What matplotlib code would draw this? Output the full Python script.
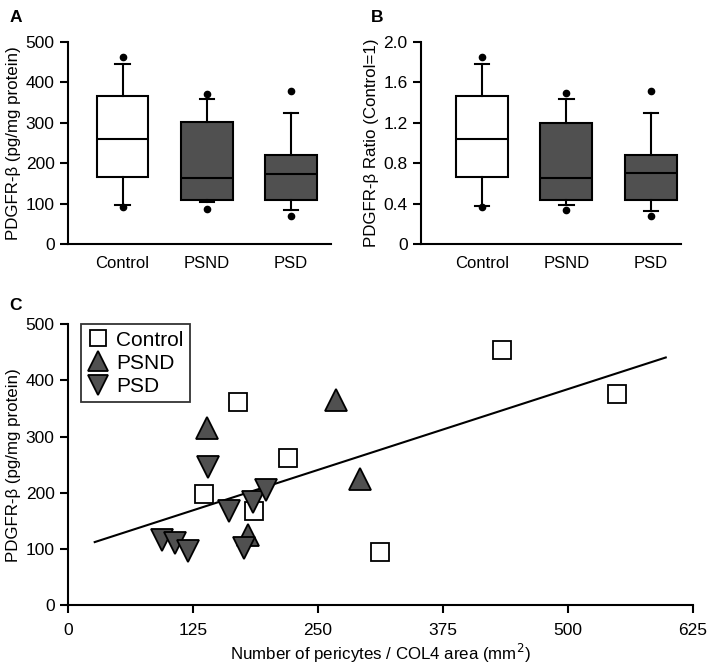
import numpy as np
import matplotlib
matplotlib.use('Agg')
import matplotlib.pyplot as plt

plt.rcParams['font.family'] = ['Liberation Sans', 'DejaVu Sans']

groups = ['Control', 'PSND', 'PSD']
a_whislo = [96, 105, 83]
a_q1 = [166, 109, 109]
a_med = [261, 163, 174]
a_q3 = [366, 301, 219]
a_whishi = [445, 359, 324]
a_fly_lo = [92, 86, 69]
a_fly_hi = [462, 371, 379]

b_whislo = [0.38, 0.39, 0.33]
b_q1 = [0.66, 0.44, 0.44]
b_med = [1.04, 0.65, 0.70]
b_q3 = [1.46, 1.20, 0.88]
b_whishi = [1.78, 1.44, 1.30]
b_fly_lo = [0.37, 0.34, 0.28]
b_fly_hi = [1.85, 1.49, 1.51]

# panel C scatter
ctrl_x = [170, 220, 136, 186, 434, 549, 312]
ctrl_y = [362, 261, 198, 167, 455, 375, 95]
psnd_x = [139, 268, 292, 180]
psnd_y = [315, 365, 224, 125]
psd_x = [140, 94, 107, 120, 161, 185, 198, 176]
psd_y = [246, 116, 111, 96, 167, 184, 205, 101]
fit_slope = 0.576
fit_intercept = 96.5
fit_x_range = [27, 598]

box_colors = ['white', '#505050', '#505050']

fig = plt.figure(figsize=(7.09, 6.69), dpi=100)
axA = fig.add_axes([0.0955, 0.6353, 0.371, 0.302])
axB = fig.add_axes([0.5934, 0.6353, 0.367, 0.302])
axC = fig.add_axes([0.0955, 0.0957, 0.8816, 0.4195])


def style(ax):
    for s in ['top', 'right']:
        ax.spines[s].set_visible(False)
    for s in ['left', 'bottom']:
        ax.spines[s].set_linewidth(1.5)
    ax.tick_params(width=1.5, length=6, labelsize=12.5, colors='black')


def boxes(ax, whislo, q1, med, q3, whishi, flo, fhi):
    stats = []
    for i in range(3):
        stats.append(dict(whislo=whislo[i], q1=q1[i], med=med[i], q3=q3[i],
                          whishi=whishi[i], fliers=[flo[i], fhi[i]]))
    bp = ax.bxp(stats, positions=[1, 2, 3], widths=0.615, capwidths=0.17,
                patch_artist=True,
                boxprops=dict(edgecolor='black', linewidth=1.5),
                medianprops=dict(color='black', linewidth=1.5),
                whiskerprops=dict(color='black', linewidth=1.5),
                capprops=dict(color='black', linewidth=1.5),
                flierprops=dict(marker='o', markerfacecolor='black',
                                markeredgecolor='black', markersize=4.5))
    for p, c in zip(bp['boxes'], box_colors):
        p.set_facecolor(c)
    ax.set_xticks([1, 2, 3])
    ax.set_xticklabels(groups)
    ax.tick_params(axis='x', length=0, pad=9, labelsize=12)


style(axA)
boxes(axA, a_whislo, a_q1, a_med, a_q3, a_whishi, a_fly_lo, a_fly_hi)
axA.set_xlim(0.349, 3.473)
axA.set_ylim(0, 500)
axA.set_yticks([0, 100, 200, 300, 400, 500])
axA.set_ylabel('PDGFR-β (pg/mg protein)', fontsize=12.2, labelpad=3)
fig.text(0.013, 0.985, 'A', fontsize=12.5, fontweight='bold', va='top')

style(axB)
boxes(axB, b_whislo, b_q1, b_med, b_q3, b_whishi, b_fly_lo, b_fly_hi)
axB.set_xlim(0.275, 3.355)
axB.set_ylim(0, 2.0)
axB.set_yticks([0, 0.4, 0.8, 1.2, 1.6, 2.0])
axB.set_yticklabels(['0', '0.4', '0.8', '1.2', '1.6', '2.0'])
axB.set_ylabel('PDGFR-β Ratio (Control=1)', fontsize=12.2, labelpad=3)
fig.text(0.523, 0.985, 'B', fontsize=12.5, fontweight='bold', va='top')

style(axC)
fx = np.array(fit_x_range)
axC.plot(fx, fit_slope * fx + fit_intercept, color='black', linewidth=1.5, zorder=2)
axC.plot(ctrl_x, ctrl_y, 's', markersize=13.5, markerfacecolor='white',
         markeredgecolor='black', markeredgewidth=1.3, label='Control', zorder=3)
axC.plot(psnd_x, psnd_y, '^', markersize=16.5, markerfacecolor='#505050',
         markeredgecolor='black', markeredgewidth=1.3, label='PSND', zorder=3)
axC.plot(psd_x, psd_y, 'v', markersize=16.5, markerfacecolor='#505050',
         markeredgecolor='black', markeredgewidth=1.3, label='PSD', zorder=3)
axC.set_xlim(0, 625)
axC.set_ylim(0, 500)
axC.set_xticks([0, 125, 250, 375, 500, 625])
axC.set_yticks([0, 100, 200, 300, 400, 500])
axC.tick_params(axis='x', pad=7)
axC.set_xlabel('Number of pericytes / COL4 area (mm$^2$)', fontsize=12.2, labelpad=3)
axC.set_ylabel('PDGFR-β (pg/mg protein)', fontsize=12.2, labelpad=3)
leg = axC.legend(loc='upper left', bbox_to_anchor=(0.021, 1.0), borderaxespad=0,
                 fontsize=15, frameon=True, fancybox=False, edgecolor='black',
                 handletextpad=0.4, borderpad=0.3, labelspacing=0.2,
                 handlelength=1.0, markerscale=0.8)
leg.get_frame().set_linewidth(1.3)
handles = leg.legend_handles
handles[0].set_markersize(11)
handles[1].set_markersize(14)
handles[2].set_markersize(14)
fig.text(0.013, 0.555, 'C', fontsize=12.5, fontweight='bold', va='top')

fig.savefig('out.png', dpi=100)
